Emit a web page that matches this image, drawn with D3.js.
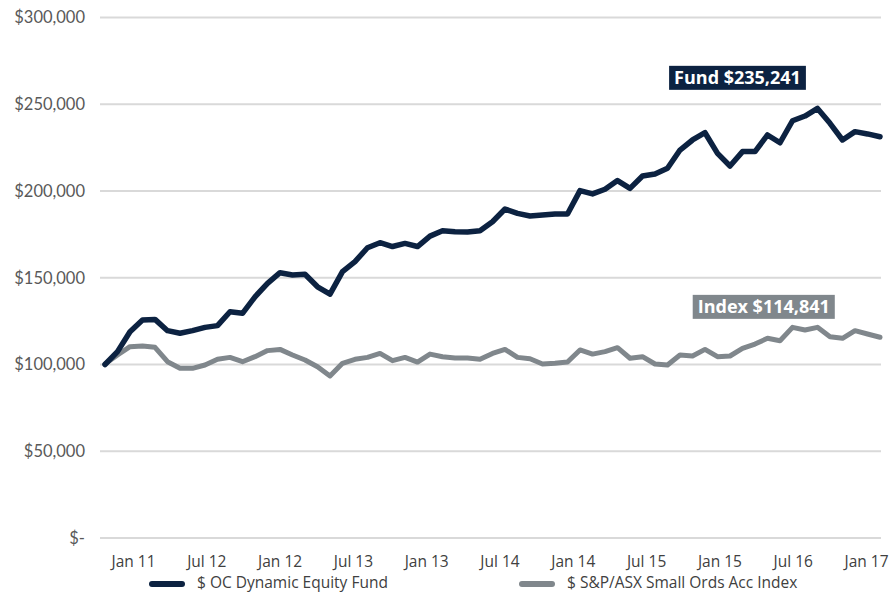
<!DOCTYPE html>
<html><head><meta charset="utf-8">
<script src="https://cdn.jsdelivr.net/npm/d3@7"></script>
<style>
html,body{margin:0;padding:0;background:#fff;}
svg{display:block;}
</style></head>
<body>
<svg id="chart" width="896" height="595"></svg>
<script>
const fundValues = [100.0,107.4,118.9,125.6,126.0,119.5,118.0,119.5,121.4,122.4,
 130.4,129.5,139.0,146.8,152.9,151.6,152.0,144.8,140.6,153.5,
 159.3,167.3,170.2,168.0,169.8,168.0,174.0,177.1,176.5,176.4,
 177.1,182.3,189.6,187.1,185.6,186.2,186.7,186.7,200.2,198.3,
 201.0,206.0,201.5,208.6,209.8,213.1,223.6,229.4,233.6,221.7,
 214.4,222.7,222.7,232.3,227.8,240.5,243.2,247.6,239.0,229.4,
 234.2,232.9,231.3].map(v=>v*1000);
const indexValues = [100.3,105.5,110.3,110.7,109.9,101.6,97.8,97.8,99.7,103.0,
 104.1,101.6,104.5,108.0,108.7,105.5,102.6,98.7,93.4,100.7,
 103.0,104.1,106.4,102.2,104.1,101.4,106.0,104.5,103.7,103.7,
 103.0,106.4,108.7,104.1,103.3,100.3,100.7,101.4,108.4,106.0,
 107.4,109.7,103.6,104.5,100.3,99.7,105.5,104.9,108.7,104.5,
 104.9,109.3,111.8,115.1,113.7,121.4,119.9,121.4,116.0,115.1,
 119.5,117.6,115.7].map(v=>v*1000);
const tickLabels = ["Jan 11","Jul 12","Jan 12","Jul 13","Jan 13","Jul 14","Jan 14","Jul 15","Jan 15","Jul 16","Jan 17"];
const yTicks = [0,50000,100000,150000,200000,250000,300000];
const seriesNames = ["$ OC Dynamic Equity Fund","$ S&P/ASX Small Ords Acc Index"];
const annotations = [
  {text:"Fund $235,241", series:0},
  {text:"Index $114,841", series:1}
];

const NAVY = "#0c2241", GRAY = "#80878c";
const svg = d3.select("#chart");
const gridL = 100, gridR = 881;
const x = d3.scaleLinear().domain([0, fundValues.length-1]).range([105, 880]);
const y = d3.scaleLinear().domain([0,300000]).range([538, 17.5]);
const xt = d3.scalePoint().domain(tickLabels).range([133, 866]);

// gridlines
svg.append("g").selectAll("line").data(yTicks).join("line")
  .attr("x1",gridL).attr("x2",gridR)
  .attr("y1",d=>y(d)).attr("y2",d=>y(d))
  .attr("stroke","#d9d9d9").attr("stroke-width",2);

// y labels
const fmt = d => d===0 ? "$-" : "$" + d3.format(",")(d);
svg.append("g").selectAll("text").data(yTicks).join("text")
  .attr("x",85).attr("y",d=>y(d)).attr("dy","0.35em")
  .attr("text-anchor","end")
  .attr("font-family","Lato, 'Open Sans', sans-serif").attr("font-size",16.5)
  .attr("fill","#595959").text(fmt);

// x labels
const xAxis = d3.axisBottom(xt).tickSize(0).tickPadding(0);
const gx = svg.append("g").attr("transform","translate(0,556)").call(xAxis);
gx.select(".domain").remove();
gx.selectAll("text").attr("font-family","'Open Sans',sans-serif")
  .attr("font-size",15.5).attr("fill","#404040").attr("dy","0.71em");

// lines
const line = d3.line().x((d,i)=>x(i)).y(d=>y(d)).curve(d3.curveLinear);
svg.append("path").datum(indexValues).attr("d",line)
  .attr("fill","none").attr("stroke",GRAY).attr("stroke-width",5)
  .attr("stroke-linejoin","round").attr("stroke-linecap","round");
svg.append("path").datum(fundValues).attr("d",line)
  .attr("fill","none").attr("stroke",NAVY).attr("stroke-width",5.5)
  .attr("stroke-linejoin","round").attr("stroke-linecap","round");

// annotations
const annPos = [{i:50.6, v:265500},{i:52.7, v:133500}];
annotations.forEach((a,k)=>{
  const g = svg.append("g");
  const t = g.append("text").attr("x",x(annPos[k].i)).attr("y",y(annPos[k].v)).attr("dy","0.36em")
    .attr("text-anchor","middle")
    .attr("font-family","'Open Sans', sans-serif").attr("font-weight","bold").attr("font-size",18)
    .attr("fill","#fff").text(a.text);
  const bb = t.node().getBBox();
  g.insert("rect","text").attr("x",bb.x-5).attr("y",bb.y+1).attr("width",bb.width+10).attr("height",bb.height)
    .attr("fill", a.series===0?NAVY:GRAY);
});

// legend
const legX = [152, 522];
seriesNames.forEach((n,k)=>{
  svg.append("line").attr("x1",legX[k]).attr("x2",legX[k]+30).attr("y1",584).attr("y2",584)
    .attr("stroke",k===0?NAVY:GRAY).attr("stroke-width",6).attr("stroke-linecap","round");
  svg.append("text").attr("x",legX[k]+45).attr("y",583).attr("dy","0.35em")
    .attr("font-family","'Open Sans',sans-serif").attr("font-size",15.5)
    .attr("fill","#404040").text(n);
});
</script>
</body></html>
